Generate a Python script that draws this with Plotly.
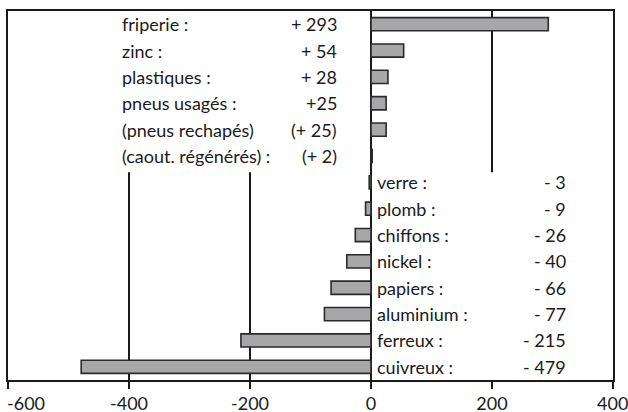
import plotly.graph_objects as go

categories = ["friperie", "zinc", "plastiques", "pneus usagés", "pneus rechapés",
              "caout. régénérés", "verre", "plomb", "chiffons", "nickel", "papiers",
              "aluminium", "ferreux", "cuivreux"]
values = [293, 54, 28, 25, 25, 2, -3, -9, -26, -40, -66, -77, -215, -479]
name_labels = ["friperie :", "zinc :", "plastiques :", "pneus usagés :", "(pneus rechapés)",
               "(caout. régénérés) :", "verre :", "plomb :", "chiffons :", "nickel :",
               "papiers :", "aluminium :", "ferreux :", "cuivreux :"]
value_labels = ["+ 293", "+ 54", "+ 28", "+25", "(+ 25)", "(+ 2)", "- 3", "- 9", "- 26",
                "- 40", "- 66", "- 77", "- 215", "- 479"]
tick_values = [-600, -400, -200, 0, 200, 400]
tick_labels = ["-600", "-400", "-200", "0", "200", "400"]

FONT = "Lato"
FS = 18
TXT = "#1a1a1a"

fig = go.Figure()
fig.add_trace(go.Bar(
    x=values, y=categories, orientation="h", width=0.5,
    marker=dict(color="#a7a7a9", line=dict(color="#2a2a2a", width=1.6)),
    hoverinfo="x+y",
))

annotations = []
for i, (cat, v) in enumerate(zip(categories, values)):
    if v >= 0:
        lx, vx = -415, -53
    else:
        lx, vx = 7, 326
    annotations.append(dict(x=lx, y=cat, xref="x", yref="y", text=name_labels[i],
                            xanchor="left", yanchor="middle", showarrow=False,
                            font=dict(family=FONT, size=FS, color=TXT)))
    annotations.append(dict(x=vx, y=cat, xref="x", yref="y", text=value_labels[i],
                            xanchor="right", yanchor="middle", showarrow=False,
                            font=dict(family=FONT, size=FS, color=TXT)))
# end tick labels kept inside the canvas
annotations.append(dict(x=tick_values[0], y=0, xref="x", yref="paper", text=tick_labels[0],
                        xanchor="left", yanchor="top", yshift=-11, xshift=-2, showarrow=False,
                        borderpad=0, font=dict(family=FONT, size=FS, color=TXT)))
annotations.append(dict(x=tick_values[-1], y=0, xref="x", yref="paper", text=tick_labels[-1],
                        xanchor="right", yanchor="top", yshift=-11, xshift=16, showarrow=False,
                        borderpad=0, font=dict(family=FONT, size=FS, color=TXT)))

boundary = 5.62
shapes = [
    # white label panels masking gridlines
    dict(type="rect", xref="x", yref="y", x0=-460, x1=-12, y0=-0.5, y1=boundary,
         fillcolor="white", line=dict(width=0), layer="between"),
    dict(type="rect", xref="x", yref="y", x0=4, x1=360, y0=boundary, y1=13.5,
         fillcolor="white", line=dict(width=0), layer="between"),
]

fig.update_layout(
    width=628, height=412,
    margin=dict(l=8, r=15, t=11, b=32, autoexpand=False),
    paper_bgcolor="white", plot_bgcolor="white",
    showlegend=False, bargap=0.5,
    annotations=annotations, shapes=shapes,
    font=dict(family=FONT, size=FS, color=TXT),
)
fig.update_xaxes(
    range=[-600, 400], tickvals=tick_values, automargin=False,
    ticktext=[""] + tick_labels[1:-1] + [""],
    showgrid=True, gridcolor="#1a1a1a", gridwidth=1.5,
    zeroline=True, zerolinecolor="#1a1a1a", zerolinewidth=1.5,
    showline=True, linecolor="#1a1a1a", linewidth=1.5, mirror=True,
    ticks="outside", ticklen=7, tickwidth=1.5, tickcolor="#1a1a1a",
    tickfont=dict(family=FONT, size=FS, color=TXT),
)
fig.update_yaxes(
    categoryorder="array", categoryarray=categories, autorange="reversed",
    range=[13.5, -0.5], showticklabels=False, showgrid=False, automargin=False,
    showline=True, linecolor="#1a1a1a", linewidth=1.5, mirror=True, ticks="",
)

fig.write_html(
    "out.html",
    config={"displayModeBar": False},
    post_script="document.body.style.margin='0';document.body.style.overflow='hidden';",
)
